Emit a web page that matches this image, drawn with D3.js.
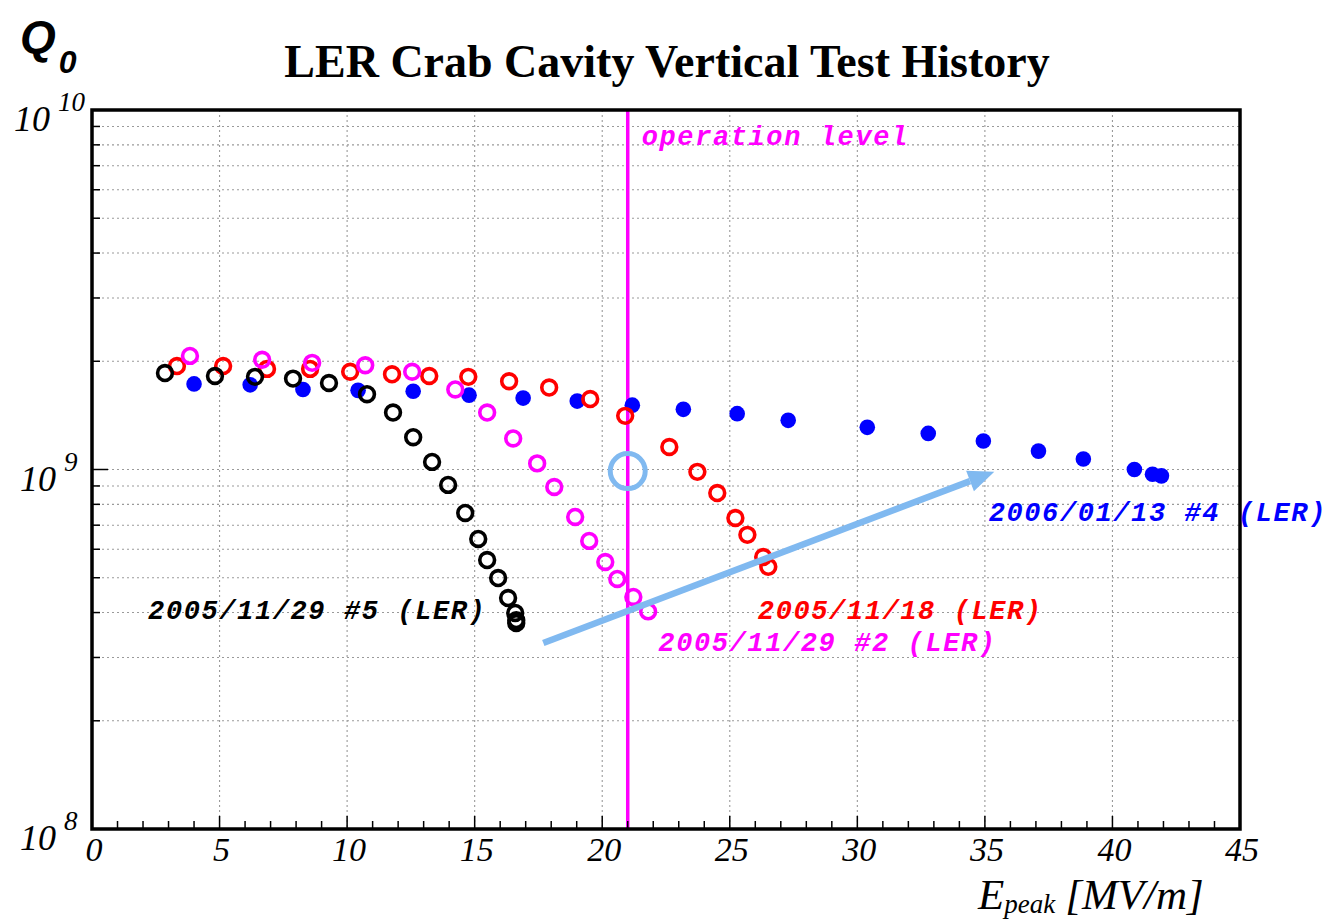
<!DOCTYPE html>
<html><head><meta charset="utf-8">
<script src="https://cdn.jsdelivr.net/npm/d3@7"></script>
<style>html,body{margin:0;padding:0;background:#fff;}svg{display:block;}</style>
</head><body>
<script>
// ---- data ----
const xTicks = [0,5,10,15,20,25,30,35,40,45];
const yTickExp = [8,9,10];
const operationLevel = 21;

const s1129n5_x = [2.86,4.82,6.39,7.88,9.29,10.78,11.80,12.59,13.33,13.96,14.63,15.14,15.49,15.92,16.31,16.59,16.63,16.63];
const s1129n5_y = [1.855e9,1.82e9,1.81e9,1.79e9,1.74e9,1.62e9,1.44e9,1.23e9,1.05e9,9.06e8,7.57e8,6.41e8,5.60e8,4.99e8,4.39e8,3.99e8,3.81e8,3.74e8];

const s0113n4_x = [4.0,6.2,8.27,10.43,12.59,14.78,16.9,19.02,21.18,23.18,25.29,27.29,30.39,32.78,34.94,37.1,38.86,40.86,41.57,41.92];
const s0113n4_y = [1.73e9,1.72e9,1.67e9,1.66e9,1.65e9,1.61e9,1.58e9,1.55e9,1.51e9,1.47e9,1.43e9,1.37e9,1.31e9,1.26e9,1.20e9,1.125e9,1.07e9,1.0e9,9.7e8,9.6e8];

const s1118_x = [3.33,5.14,6.86,8.55,10.12,11.76,13.22,14.75,16.35,17.92,19.53,20.9,22.63,23.73,24.51,25.22,25.69,26.31,26.51];
const s1118_y = [1.94e9,1.94e9,1.905e9,1.905e9,1.87e9,1.84e9,1.82e9,1.81e9,1.76e9,1.69e9,1.57e9,1.41e9,1.155e9,9.85e8,8.6e8,7.33e8,6.58e8,5.71e8,5.36e8];

const s1129n2_x = [3.84,6.67,8.63,10.71,12.55,14.24,15.49,16.51,17.45,18.12,18.94,19.49,20.12,20.59,21.22,21.8];
const s1129n2_y = [2.07e9,2.02e9,1.98e9,1.95e9,1.87e9,1.67e9,1.44e9,1.22e9,1.04e9,8.94e8,7.38e8,6.33e8,5.53e8,4.96e8,4.42e8,4.03e8];

const labels = [
  {text:"2005/11/29 #5 (LER)", x:2.2, y:3.83e8, color:"#000000"},
  {text:"2005/11/18 (LER)", x:26.1, y:3.83e8, color:"#ff0000"},
  {text:"2005/11/29 #2 (LER)", x:22.2, y:3.13e8, color:"#ff00ff"},
  {text:"2006/01/13 #4 (LER)", x:35.15, y:7.2e8, color:"#0000ff"},
  {text:"operation level", x:21.55, y:8.0e9, color:"#ff00ff"}
];
const arrowStart = [17.69, 3.29e8];
const arrowEnd = [35.37, 9.85e8];
const highlight = [21, 9.9e8];

// ---- layout ----
const W = 1327, H = 920;
const L = 92, R = 1240, T = 110, B = 829;
const svg = d3.select("body").append("svg").attr("width", W).attr("height", H);
const x = d3.scaleLinear().domain([0,45]).range([L,R]);
const y = d3.scaleLog().domain([1e8,1e10]).range([B,T]);

// grid
const grid = svg.append("g").attr("stroke","#9a9a9a").attr("stroke-width",1.1).attr("stroke-dasharray","2,3");
const minor = [];
for (let e=8;e<10;e++) for (let m=1;m<10;m++) { const v=m*Math.pow(10,e); if (v>1e8) minor.push(v); }
grid.selectAll("line.h").data(minor).enter().append("line")
  .attr("x1",L).attr("x2",R).attr("y1",d=>y(d)).attr("y2",d=>y(d));
grid.selectAll("line.v").data(xTicks.slice(1,-1)).enter().append("line")
  .attr("y1",T).attr("y2",B).attr("x1",d=>x(d)).attr("x2",d=>x(d));

// operation level line
svg.append("line").attr("x1",x(operationLevel)).attr("x2",x(operationLevel))
  .attr("y1",T).attr("y2",B).attr("stroke","#ff00ff").attr("stroke-width",3.5);

// axis ticks
const tk = svg.append("g").attr("stroke","#000").attr("stroke-width",1.5);
tk.selectAll("line.xt").data(d3.range(1,45)).enter().append("line")
  .attr("x1",d=>x(d)).attr("x2",d=>x(d)).attr("y1",B).attr("y2",d=>B-(d%5===0?13:8));
tk.selectAll("line.yt").data(minor).enter().append("line")
  .attr("y1",d=>y(d)).attr("y2",d=>y(d)).attr("x1",L).attr("x2",d=>L+(Math.abs(Math.log10(d)%1)<1e-6?16:8));

// frame
svg.append("rect").attr("x",L).attr("y",T).attr("width",R-L).attr("height",B-T)
  .attr("fill","none").attr("stroke","#000").attr("stroke-width",3.5);

// series
function openSeries(xs, ys, color){
  svg.append("g").selectAll("circle").data(xs.map((v,i)=>[v,ys[i]])).enter().append("circle")
    .attr("cx",d=>x(d[0])).attr("cy",d=>y(d[1])).attr("r",7.4)
    .attr("fill","none").attr("stroke",color).attr("stroke-width",3.6);
}
function filledSeries(xs, ys, color){
  svg.append("g").selectAll("circle").data(xs.map((v,i)=>[v,ys[i]])).enter().append("circle")
    .attr("cx",d=>x(d[0])).attr("cy",d=>y(d[1])).attr("r",7.8).attr("fill",color);
}
filledSeries(s0113n4_x, s0113n4_y, "#0000ff");
openSeries(s1118_x, s1118_y, "#ff0000");
openSeries(s1129n2_x, s1129n2_y, "#ff00ff");
openSeries(s1129n5_x, s1129n5_y, "#000000");

// labels
svg.append("g").selectAll("text").data(labels).enter().append("text")
  .attr("x",d=>x(d.x)).attr("y",d=>y(d.y)).attr("fill",d=>d.color)
  .attr("font-family","'Liberation Mono','DejaVu Sans Mono',monospace")
  .attr("font-style","italic").attr("font-weight","bold").attr("font-size",27)
  .attr("letter-spacing",1.6)
  .text(d=>d.text);

// annotations
const lb = "#80b9f0";
svg.append("circle").attr("cx",x(highlight[0])).attr("cy",y(highlight[1])).attr("r",17.5)
  .attr("fill","none").attr("stroke",lb).attr("stroke-width",5);
const ax1 = x(arrowStart[0]), ay1 = y(arrowStart[1]), ax2 = x(arrowEnd[0]), ay2 = y(arrowEnd[1]);
const ang = Math.atan2(ay2-ay1, ax2-ax1);
const hl = 26, hw = 11;
const bx = ax2 - hl*Math.cos(ang), by = ay2 - hl*Math.sin(ang);
svg.append("line").attr("x1",ax1).attr("y1",ay1).attr("x2",bx).attr("y2",by)
  .attr("stroke",lb).attr("stroke-width",6.5);
svg.append("path").attr("fill",lb).attr("d",
  `M${ax2},${ay2}L${bx+hw*Math.sin(ang)},${by-hw*Math.cos(ang)}L${bx-hw*Math.sin(ang)},${by+hw*Math.cos(ang)}Z`);

// title
svg.append("text").attr("x",667).attr("y",77).attr("text-anchor","middle")
  .attr("font-family","'Liberation Serif','Times New Roman',serif").attr("font-weight","bold")
  .attr("font-size",46).text("LER Crab Cavity Vertical Test History");

// Q0
const q = svg.append("text").attr("x",20).attr("y",53)
  .attr("font-family","'Liberation Sans',Arial,sans-serif").attr("font-style","italic").attr("font-weight","bold");
q.append("tspan").attr("font-size",46).text("Q");
q.append("tspan").attr("font-size",32).attr("dy",20).attr("dx",3).text("0");

// x tick labels
svg.append("g").selectAll("text").data(xTicks).enter().append("text")
  .attr("x",d=>x(d)+2).attr("y",861).attr("text-anchor","middle")
  .attr("font-family","'Liberation Serif','Times New Roman',serif").attr("font-style","italic")
  .attr("font-size",34).text(d=>d);

// y tick labels
const yl = svg.append("g").selectAll("text").data(yTickExp).enter().append("text")
  .attr("x",d=> d===10 ? 14 : 20).attr("y",d=>y(Math.pow(10,d))+21)
  .attr("font-family","'Liberation Serif','Times New Roman',serif").attr("font-style","italic");
yl.append("tspan").attr("font-size",36).text("10");
yl.append("tspan").attr("font-size",27).attr("dy",-20).attr("dx",8).text(d=>d);

// x axis title
const xt = svg.append("text").attr("x",978).attr("y",909)
  .attr("font-family","'Liberation Serif','Times New Roman',serif").attr("font-style","italic");
xt.append("tspan").attr("font-size",43).text("E");
xt.append("tspan").attr("font-size",27).attr("dy",4).text("peak");
xt.append("tspan").attr("font-size",43).attr("dy",-4).attr("dx",10).text("[MV/m]");
</script>
</body></html>
